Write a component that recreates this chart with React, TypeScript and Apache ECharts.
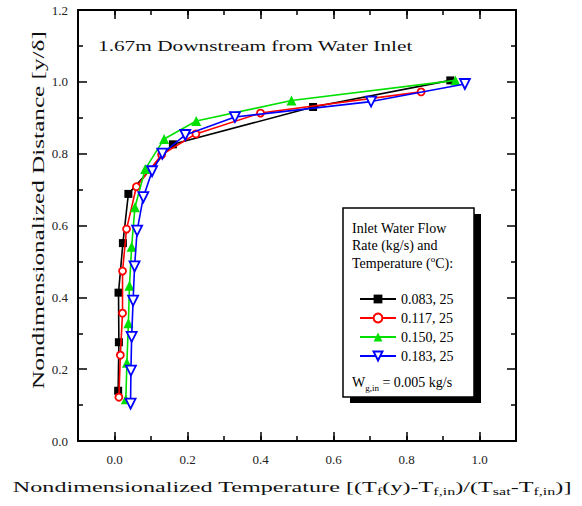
import React, { useEffect, useRef } from 'react';
import * as echarts from 'echarts';

const seriesNames = ['0.083, 25', '0.117, 25', '0.150, 25', '0.183, 25'];

const blackX = [0.010, 0.012, 0.011, 0.023, 0.038, 0.160, 0.544, 0.920];
const blackY = [0.140, 0.275, 0.413, 0.551, 0.688, 0.826, 0.930, 1.004];

const redX = [0.012, 0.016, 0.022, 0.022, 0.033, 0.060, 0.129, 0.223, 0.400, 0.840];
const redY = [0.122, 0.239, 0.356, 0.473, 0.590, 0.708, 0.797, 0.855, 0.913, 0.972];

const greenX = [0.031, 0.034, 0.038, 0.041, 0.047, 0.056, 0.084, 0.136, 0.224, 0.485, 0.934];
const greenY = [0.116, 0.218, 0.328, 0.432, 0.541, 0.651, 0.757, 0.841, 0.891, 0.948, 1.004];

const blueX = [0.044, 0.045, 0.047, 0.051, 0.055, 0.062, 0.079, 0.103, 0.131, 0.194, 0.330, 0.703, 0.960];
const blueY = [0.104, 0.196, 0.290, 0.391, 0.486, 0.586, 0.679, 0.751, 0.800, 0.852, 0.902, 0.945, 0.994];

const xLabelValues = [0.0, 0.2, 0.4, 0.6, 0.8, 1.0];

const FONT = '"Liberation Serif", "Times New Roman", serif';

function textWidth(parts: Array<[string, number]>): number {
  const ctx = document.createElement('canvas').getContext('2d');
  if (!ctx) return 1;
  let w = 0;
  for (const [t, s] of parts) {
    ctx.font = `${s}px ${FONT}`;
    w += ctx.measureText(t).width;
  }
  return w || 1;
}

export default function App() {
  const ref = useRef<HTMLDivElement>(null);
  useEffect(() => {
    if (!ref.current) return;
    const chart = echarts.init(ref.current, undefined, { renderer: 'svg' });
    const zip = (xs: number[], ys: number[]) => xs.map((x, i) => [x, ys[i]]);

    const titleText = '1.67m Downstream from Water Inlet';
    const titleScale = 315 / textWidth([[titleText, 14]]);
    const xNameScale = 559 / textWidth([
      ['Nondimensionalized Temperature [(T', 15], ['f', 10], ['(y)-T', 15], ['f,in', 10],
      [')/(T', 15], ['sat', 10], ['-T', 15], ['f,in', 10], [')]', 15],
    ]);
    const yNameText = 'Nondimensionalized Distance [y/\u03b4]';
    const yNameScale = 358 / textWidth([[yNameText, 17]]);

    const lineW = 1.6;
    const axisBase = {
      min: -0.1, max: 1.1, type: 'value' as const,
      splitLine: { show: false },
    };
    const axisLineStyle = { show: true, onZero: false, lineStyle: { color: '#000', width: 2 } };

    const option: any = {
      animation: false,
      backgroundColor: '#fff',
      grid: { left: 78, right: 66, top: 10, bottom: 65, containLabel: false },
      xAxis: [
        {
          ...axisBase, position: 'bottom', interval: 0.1,
          axisLine: axisLineStyle,
          axisTick: { show: true, inside: true, length: 5, lineStyle: { color: '#000', width: 1.5 } },
          axisLabel: {
            customValues: xLabelValues, margin: 12,
            formatter: (v: number) => v.toFixed(1),
            fontFamily: FONT, fontSize: 13, color: '#222',
          },
        },
        {
          ...axisBase, position: 'bottom',
          axisLine: { show: false, onZero: false },
          axisTick: { show: true, inside: true, length: 9, customValues: xLabelValues, lineStyle: { color: '#000', width: 1.5 } },
          axisLabel: { show: false },
        },
        {
          ...axisBase, position: 'top', interval: 0.1,
          axisLine: axisLineStyle,
          axisTick: { show: true, inside: true, length: 5, lineStyle: { color: '#000', width: 1.5 } },
          axisLabel: { show: false },
        },
        {
          ...axisBase, position: 'top',
          axisLine: { show: false, onZero: false },
          axisTick: { show: true, inside: true, length: 9, customValues: xLabelValues, lineStyle: { color: '#000', width: 1.5 } },
          axisLabel: { show: false },
        },
      ],
      yAxis: [
        {
          type: 'value', position: 'left', min: 0, max: 1.2, interval: 0.2,
          splitLine: { show: false },
          axisLine: axisLineStyle,
          axisTick: { show: true, inside: true, length: 9, lineStyle: { color: '#000', width: 1.5 } },
          minorTick: { show: true, splitNumber: 2, length: 5, lineStyle: { color: '#000', width: 1.5 } },
          minorSplitLine: { show: false },
          axisLabel: {
            margin: 10, formatter: (v: number) => v.toFixed(1),
            fontFamily: FONT, fontSize: 13, color: '#222',
          },
        },
        {
          type: 'value', position: 'right', min: 0, max: 1.2, interval: 0.2,
          splitLine: { show: false },
          axisLine: axisLineStyle,
          axisTick: { show: true, inside: true, length: 9, lineStyle: { color: '#000', width: 1.5 } },
          minorTick: { show: true, splitNumber: 2, length: 5, lineStyle: { color: '#000', width: 1.5 } },
          minorSplitLine: { show: false },
          axisLabel: { show: false },
        },
      ],
      legend: {
        data: seriesNames, orient: 'vertical', left: 359, top: 292, padding: 0,
        itemWidth: 36, itemHeight: 11, itemGap: 5, selectedMode: false, z: 20,
        textStyle: { fontFamily: FONT, fontSize: 14, color: '#000' },
      },
      series: [
        {
          name: seriesNames[0], type: 'line', data: zip(blackX, blackY),
          symbol: 'rect', symbolSize: 8, z: 3,
          lineStyle: { color: '#000', width: lineW },
          itemStyle: { color: '#000' },
        },
        {
          name: seriesNames[1], type: 'line', data: zip(redX, redY),
          symbol: 'circle', symbolSize: 7, z: 4,
          lineStyle: { color: '#ff0000', width: lineW },
          itemStyle: { color: '#fff', borderColor: '#ff0000', borderWidth: 1.8 },
        },
        {
          name: seriesNames[2], type: 'line', data: zip(greenX, greenY),
          symbol: 'triangle', symbolSize: 10, z: 5,
          lineStyle: { color: '#00e000', width: lineW },
          itemStyle: { color: '#00e000' },
        },
        {
          name: seriesNames[3], type: 'line', data: zip(blueX, blueY),
          symbol: 'triangle', symbolRotate: 180, symbolSize: 10, z: 6,
          lineStyle: { color: '#0000ff', width: lineW },
          itemStyle: { color: '#fff', borderColor: '#0000ff', borderWidth: 1.8 },
        },
      ],
      graphic: [
        {
          type: 'text', x: 98, y: 46, scaleX: titleScale, z: 10,
          style: { text: titleText, font: `14px ${FONT}`, fill: '#111', align: 'left', verticalAlign: 'middle' },
        },
        {
          type: 'text', x: 292, y: 487, scaleX: xNameScale, z: 10,
          style: {
            text: 'Nondimensionalized Temperature [(T{s|f}(y)-T{s|f,in})/(T{s|sat}-T{s|f,in})]',
            font: `15px ${FONT}`, fill: '#111', lineHeight: 20,
            align: 'center', verticalAlign: 'middle',
            rich: { s: { fontSize: 10, fontFamily: FONT, fill: '#111', verticalAlign: 'bottom', lineHeight: 10 } },
          },
        },
        {
          type: 'text', x: 38, y: 210, rotation: Math.PI / 2, scaleX: yNameScale, z: 10,
          style: { text: yNameText, font: `17px ${FONT}`, fill: '#111', align: 'center', verticalAlign: 'middle' },
        },
        {
          type: 'rect', z: 8, shape: { x: 350, y: 214, width: 131, height: 189 },
          style: { fill: '#000' },
        },
        {
          type: 'rect', z: 9, shape: { x: 343, y: 208, width: 131, height: 189 },
          style: { fill: '#fff', stroke: '#000', lineWidth: 1.5 },
        },
        {
          type: 'text', x: 352, y: 228, z: 10,
          style: { text: 'Inlet Water Flow', font: `14px ${FONT}`, fill: '#000', align: 'left', verticalAlign: 'middle' },
        },
        {
          type: 'text', x: 352, y: 245, z: 10,
          style: { text: 'Rate (kg/s) and', font: `14px ${FONT}`, fill: '#000', align: 'left', verticalAlign: 'middle' },
        },
        {
          type: 'text', x: 352, y: 263, z: 10,
          style: {
            text: 'Temperature ({p|o}C):', font: `14px ${FONT}`, fill: '#000', lineHeight: 18,
            align: 'left', verticalAlign: 'middle',
            rich: { p: { fontSize: 9, fontFamily: FONT, fill: '#000', verticalAlign: 'top', lineHeight: 9 } },
          },
        },
        {
          type: 'text', x: 352, y: 382, z: 10,
          style: {
            text: 'W{b|g,in} = 0.005 kg/s', font: `14px ${FONT}`, fill: '#000', lineHeight: 20,
            align: 'left', verticalAlign: 'middle',
            rich: { b: { fontSize: 9, fontFamily: FONT, fill: '#000', verticalAlign: 'bottom', lineHeight: 9 } },
          },
        },
      ],
    };
    chart.setOption(option);
    return () => chart.dispose();
  }, []);
  return <div ref={ref} style={{ position: 'fixed', left: 0, top: 0, width: 582, height: 506 }} />;
}
